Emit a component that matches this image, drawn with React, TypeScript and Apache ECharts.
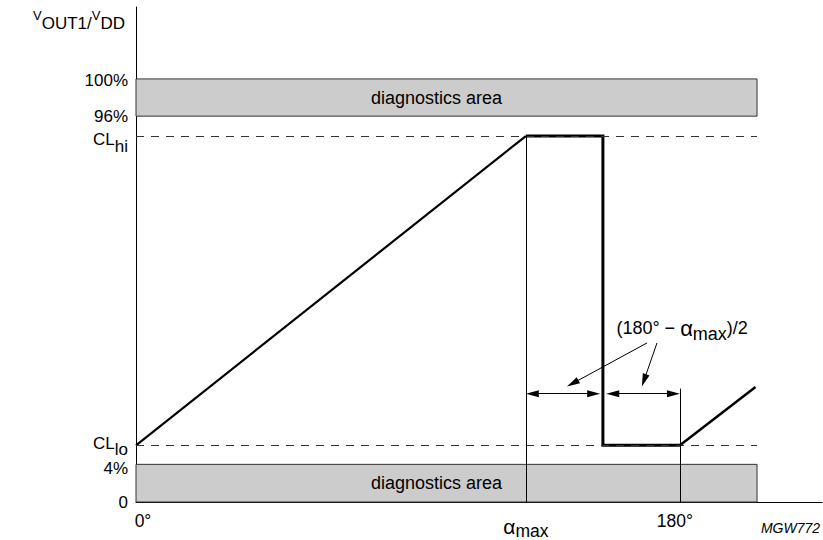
import React, { useEffect, useRef } from 'react';
import * as echarts from 'echarts';

const W = 823;
const H = 540;
const GRID = { left: 136, right: 1, top: 7, bottom: 35 };
const X_MAX = 227;
const Y_MAX = 117;
const FONT = '"Liberation Sans", Arial, Helvetica, sans-serif';

// virtual (schematic) levels
const CL_HI = 86.5;
const CL_LO = 13.4;
const P96 = 91.2;
const P4 = 8.9;
const P100 = 100;
const ALPHA_MAX = 129;
const MID = 154.5;
const DEG180 = 180;
const BAND_END = 205.5;

const yTickValues = [0, P4, CL_LO, CL_HI, P96, P100];
const yTickLabels = ['0', '{d|4%}', '{n|CL}{l|lo}', '{m|CL}{s|hi}', '96%', '{c|100%}'];
const xTickValues = [0, ALPHA_MAX, DEG180];
const xTickLabels = ['{z|0°}', '{a|α}{s|max}', '{e|180°}'];

const rampUp = [[0, CL_LO], [ALPHA_MAX, CL_HI]];
const clampPulse = [[ALPHA_MAX, CL_HI], [MID, CL_HI], [MID, CL_LO], [DEG180, CL_LO]];
const rampUp2 = [[DEG180, CL_LO], [205, 27.2]];

const DIM_Y = 25.6;
const dimLeft: [number, number][] = [[ALPHA_MAX, DIM_Y], [153.6, DIM_Y]];
const dimRight: [number, number][] = [[155.6, DIM_Y], [DEG180, DIM_Y]];
const leader1: [number, number][] = [[169.1, 37.6], [142.6, 27.3]];
const leader2: [number, number][] = [[172.4, 37.6], [167.4, 27.3]];
const LEADER_TOP_180 = 26.8;
const ANNOT: [number, number] = [158.8, 41.1];

const pxPerX = (W - GRID.left - GRID.right) / X_MAX;
const pxPerY = (H - GRID.top - GRID.bottom) / Y_MAX;
const HEAD = 13;

function insetEnd(a: [number, number], b: [number, number], px: number): [number, number] {
  const dx = (b[0] - a[0]) * pxPerX;
  const dy = (b[1] - a[1]) * pxPerY;
  const len = Math.hypot(dx, dy);
  const t = px / len;
  return [b[0] - (b[0] - a[0]) * t, b[1] - (b[1] - a[1]) * t];
}

export default function App() {
  const ref = useRef<HTMLDivElement>(null);
  useEffect(() => {
    if (!ref.current) return;
    const chart = echarts.init(ref.current, null, { renderer: 'svg' });
    const dimLine = (p: [number, number][]) => {
      const a = insetEnd(p[1], p[0], HEAD / 2);
      const b = insetEnd(p[0], p[1], HEAD / 2);
      return [{ coord: a }, { coord: b }];
    };
    const leader = (p: [number, number][]) => {
      const b = insetEnd(p[0], p[1], HEAD / 2);
      return [{ coord: p[0], symbol: 'none' }, { coord: b, symbol: 'triangle' }];
    };
    const dashStyle = { color: '#333', width: 1, type: [8, 7] as any };
    const t = (size: number, padding?: number[]) => ({
      fontSize: size,
      fontFamily: FONT,
      color: '#000',
      ...(padding ? { padding } : {}),
    });
    chart.setOption({
      animation: false,
      textStyle: { fontFamily: FONT },
      grid: { ...GRID, containLabel: false },
      xAxis: {
        type: 'value',
        min: 0,
        max: X_MAX,
        splitLine: { show: false },
        axisTick: { show: false },
        axisLine: { show: true, lineStyle: { color: '#000', width: 1 } },
        axisLabel: {
          customValues: xTickValues,
          margin: 10,
          color: '#000',
          fontSize: 17.5,
          fontFamily: FONT,
          formatter: (v: number) => {
            const i = xTickValues.indexOf(v);
            return i >= 0 ? xTickLabels[i] : '';
          },
          rich: {
            z: t(17.5, [0, 0, 0, 14]),
            e: t(17.5, [0, 10, 0, 0]),
            a: t(21),
            s: t(17.5, [10, 0, 0, 0]),
          },
        },
      },
      yAxis: {
        type: 'value',
        min: 0,
        max: Y_MAX,
        splitLine: { show: false },
        axisTick: { show: false },
        axisLine: { show: true, lineStyle: { color: '#000', width: 1 } },
        name: '{v|V}{o|OUT1/}{v|V}{o|DD}',
        nameLocation: 'end',
        nameGap: -16,
        nameTextStyle: {
          align: 'right',
          verticalAlign: 'middle',
          padding: [0, 11, 0, 0],
          rich: {
            v: t(13, [0, 0, 15, 0]),
            o: t(17),
          },
        },
        axisLabel: {
          customValues: yTickValues,
          margin: 8,
          color: '#000',
          fontSize: 17,
          fontFamily: FONT,
          formatter: (v: number) => {
            const i = yTickValues.indexOf(v);
            return i >= 0 ? yTickLabels[i] : '';
          },
          rich: {
            m: t(17, [6, 0, 0, 0]),
            s: t(17, [20, 0, 0, 0]),
            n: t(17, [0, 0, 4, 0]),
            l: t(17, [8, 0, 0, 0]),
            d: t(17, [8, 0, 0, 0]),
            c: t(17, [4, 0, 0, 0]),
          },
        },
      },
      graphic: [
        {
          type: 'text',
          right: 3,
          top: 521,
          style: { text: 'MGW772', font: `italic 14px ${FONT}`, fill: '#000' },
        },
      ],
      series: [
        {
          type: 'line',
          data: [],
          z: 1,
          silent: true,
          markArea: {
            silent: true,
            itemStyle: { color: '#cccccc', borderColor: '#333', borderWidth: 1 },
            label: {
              show: true,
              position: 'inside',
              color: '#000',
              fontSize: 18,
              fontFamily: FONT,
              offset: [-10, 0],
            },
            data: [
              [{ name: 'diagnostics area', xAxis: 0, yAxis: P96 }, { xAxis: BAND_END, yAxis: P100 }],
              [{ name: 'diagnostics area', xAxis: 0, yAxis: 0 }, { xAxis: BAND_END, yAxis: P4 }],
            ],
          },
        },
        {
          type: 'line',
          data: [],
          z: 2,
          silent: true,
          markLine: {
            silent: true,
            symbol: 'none',
            label: { show: false },
            data: [
              [{ coord: [0, CL_HI], lineStyle: dashStyle }, { coord: [BAND_END, CL_HI] }],
              [{ coord: [0, CL_LO], lineStyle: dashStyle }, { coord: [BAND_END, CL_LO] }],
              [{ coord: [ALPHA_MAX, CL_HI], lineStyle: { color: '#000', width: 1, type: 'solid' } }, { coord: [ALPHA_MAX, 0] }],
              [{ coord: [DEG180, LEADER_TOP_180], lineStyle: { color: '#000', width: 1, type: 'solid' } }, { coord: [DEG180, 0] }],
            ],
          },
        },
        {
          type: 'line',
          data: rampUp,
          z: 3,
          silent: true,
          symbol: 'none',
          lineStyle: { color: '#000', width: 2.2 },
        },
        {
          type: 'line',
          data: clampPulse,
          z: 3,
          silent: true,
          symbol: 'none',
          lineStyle: { color: '#000', width: 3, join: 'miter' },
        },
        {
          type: 'line',
          data: rampUp2,
          z: 3,
          silent: true,
          symbol: 'none',
          lineStyle: { color: '#000', width: 2.5 },
        },
        {
          type: 'line',
          data: [],
          z: 4,
          silent: true,
          markLine: {
            silent: true,
            symbol: ['triangle', 'triangle'],
            symbolSize: [7, HEAD],
            label: { show: false },
            lineStyle: { color: '#000', width: 1, type: 'solid' },
            itemStyle: { color: '#000' },
            data: [dimLine(dimLeft), dimLine(dimRight), leader(leader1), leader(leader2)],
          },
          markPoint: {
            silent: true,
            symbol: 'circle',
            symbolSize: 1,
            itemStyle: { color: 'rgba(0,0,0,0)' },
            label: {
              show: true,
              position: 'right',
              distance: 0,
              formatter: '{t|(180° − }{a|α}{s|max}{t|)/2}',
              rich: {
                t: t(18),
                a: t(22),
                s: t(18, [12, 0, 0, 0]),
              },
            },
            data: [{ coord: ANNOT }],
          },
        },
      ],
    });
    return () => chart.dispose();
  }, []);
  return <div ref={ref} style={{ position: 'fixed', left: 0, top: 0, width: W, height: H, background: '#fff' }} />;
}
